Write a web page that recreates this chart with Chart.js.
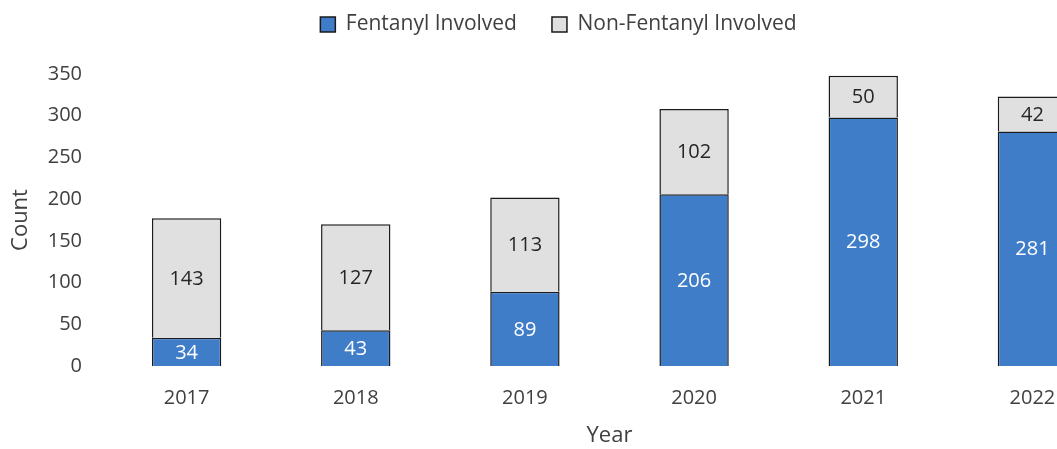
<!DOCTYPE html>
<html>
<head>
<meta charset="utf-8">
<script src="https://cdn.jsdelivr.net/npm/chart.js@4"></script>
<style>
    html, body { margin: 0; padding: 0; background: #fff; overflow: hidden; }
    #wrap { width: 1057px; height: 449px; overflow: hidden; }
</style>
</head>
<body>
<div id="wrap">
    <canvas id="overdoseChart" width="1117" height="449"></canvas>
</div>
<script>
const years = ['2017', '2018', '2019', '2020', '2021', '2022'];
const fentanylCounts = [34, 43, 89, 206, 298, 281];
const nonFentanylCounts = [143, 127, 113, 102, 50, 42];
const countTicks = [0, 50, 100, 150, 200, 250, 300, 350];

const FONT = '"Open Sans", Lato, sans-serif';
const TEXT = '#404040';

// Count printed in the middle of every stacked segment
const segmentLabels = {
    id: 'segmentLabels',
    afterDatasetsDraw(chart) {
        const ctx = chart.ctx;
        ctx.save();
        ctx.font = '20px ' + FONT;
        ctx.textAlign = 'center';
        ctx.textBaseline = 'middle';
        chart.data.datasets.forEach((ds, i) => {
            const meta = chart.getDatasetMeta(i);
            ctx.fillStyle = ds.labelColor;
            meta.data.forEach((bar, j) => {
                ctx.fillText(String(ds.data[j]), bar.x, (bar.y + bar.base) / 2 + 1);
            });
        });
        ctx.restore();
    }
};

// Reserve the space above the plot for the legend
const legendSpace = {
    id: 'legendSpace',
    beforeInit(chart) {
        const fit = chart.legend.fit;
        chart.legend.fit = function () {
            fit.bind(chart.legend)();
            this.height = 95;
        };
    }
};

new Chart(document.getElementById('overdoseChart').getContext('2d'), {
    type: 'bar',
    data: {
        labels: years,
        datasets: [{
            label: 'Fentanyl Involved',
            data: fentanylCounts,
            backgroundColor: '#3f7dc9',
            borderColor: '#1a1a1a',
            borderWidth: 1.5,
            labelColor: '#ffffff',
            barPercentage: 0.41,
            categoryPercentage: 1
        }, {
            label: 'Non-Fentanyl Involved',
            data: nonFentanylCounts,
            backgroundColor: '#e0e0e0',
            borderColor: '#1a1a1a',
            borderWidth: 1.5,
            labelColor: '#262626',
            barPercentage: 0.41,
            categoryPercentage: 1
        }]
    },
    options: {
        responsive: false,
        animation: false,
        layout: { padding: { top: -21, left: 0, right: 0, bottom: 0 } },
        scales: {
            x: {
                stacked: true,
                grid: { display: false, drawTicks: false },
                border: { display: false },
                ticks: { color: TEXT, font: { family: FONT, size: 20 }, padding: 20 },
                title: {
                    display: true, text: 'Year', color: TEXT,
                    font: { family: FONT, size: 22 }, padding: { top: 0, bottom: 0 }
                },
                afterFit(scale) { scale.height = 83; }
            },
            y: {
                stacked: true,
                min: 0,
                max: 350,
                afterBuildTicks(scale) { scale.ticks = countTicks.map(v => ({ value: v })); },
                grid: { display: false, drawTicks: false },
                border: { display: false },
                ticks: { color: TEXT, font: { family: FONT, size: 20 }, padding: 20 },
                title: {
                    display: true, text: 'Count', color: TEXT,
                    font: { family: FONT, size: 22 }, padding: { top: 8, bottom: 0 }
                },
                afterFit(scale) { scale.width = 102; }
            }
        },
        plugins: {
            legend: {
                position: 'top',
                labels: {
                    color: TEXT,
                    font: { family: FONT, size: 21 },
                    boxWidth: 15,
                    boxHeight: 15,
                    padding: 35,
                    useBorderRadius: false
                }
            },
            tooltip: { enabled: false }
        }
    },
    plugins: [segmentLabels, legendSpace]
});
</script>
</body>
</html>
